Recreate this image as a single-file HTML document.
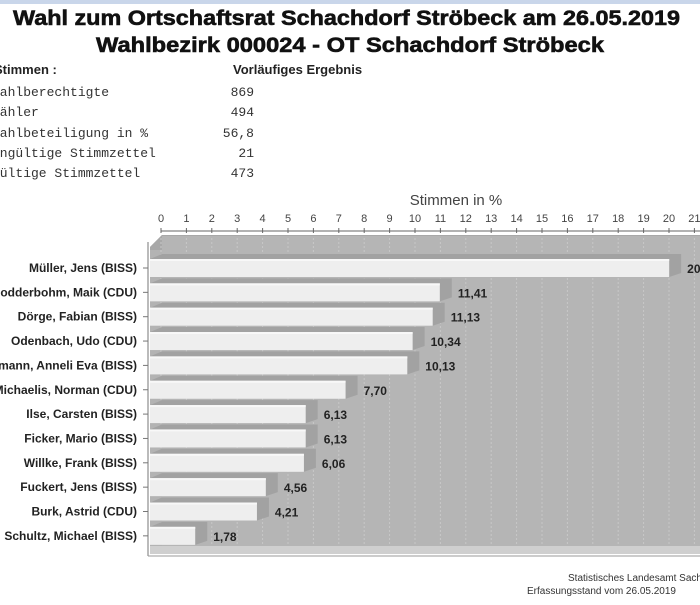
<!DOCTYPE html>
<html><head><meta charset="utf-8"><style>
body{margin:0;width:700px;height:600px;overflow:hidden;background:#fff;font-family:"Liberation Sans",sans-serif}
</style></head><body>
<svg width="700" height="600" xmlns="http://www.w3.org/2000/svg">
<rect x="0" y="0" width="700" height="4" fill="#c9d6ea"/>
<g font-family="Liberation Sans, sans-serif" font-weight="bold" font-size="21" fill="#111" stroke="#111" stroke-width="0.6">
<text x="13" y="25" textLength="667" lengthAdjust="spacingAndGlyphs">Wahl zum Ortschaftsrat Schachdorf Ströbeck am 26.05.2019</text>
<text x="96" y="52" textLength="508" lengthAdjust="spacingAndGlyphs">Wahlbezirk 000024 - OT Schachdorf Ströbeck</text>
</g>
<g font-family="Liberation Sans, sans-serif" font-weight="bold" font-size="13" fill="#222">
<text x="-6" y="74">Stimmen  :</text>
<text x="233" y="74">Vorläufiges Ergebnis</text>
</g>
<g font-family="Liberation Mono, monospace" font-size="13" fill="#333">
<text x="-8" y="96">Wahlberechtigte</text><text x="254" y="96" text-anchor="end">869</text>
<text x="-8" y="116">Wähler</text><text x="254" y="116" text-anchor="end">494</text>
<text x="-8" y="137">Wahlbeteiligung in %</text><text x="254" y="137" text-anchor="end">56,8</text>
<text x="-8" y="157">Ungültige Stimmzettel</text><text x="254" y="157" text-anchor="end">21</text>
<text x="-8" y="177">Gültige Stimmzettel</text><text x="254" y="177" text-anchor="end">473</text>
</g>
<text x="456" y="205" font-size="15" fill="#444" text-anchor="middle" font-family="Liberation Sans, sans-serif">Stimmen in %</text>
<g id="ticks" font-size="11" fill="#444" text-anchor="middle" font-family="Liberation Sans, sans-serif"></g>
<line x1="161" y1="231" x2="700" y2="231" stroke="#666"/>
<polygon points="162,235 700,235 700,553 150,553 150,247" fill="#b3b3b3"/>
<polygon points="162,235 700,235 700,250 162,250 150,250 150,247" fill="#a8a8a8"/>
<rect x="162" y="236" width="538" height="310" fill="#b5b5b5"/>
<rect x="150" y="546" width="550" height="8" fill="#cfcfcf"/>
<line x1="148" y1="242" x2="148" y2="556" stroke="#777"/>
<line x1="148" y1="556" x2="700" y2="556" stroke="#999"/>
<g id="grid" stroke="#c8c8c8" stroke-dasharray="2,2"></g>
<g id="bars"></g>
<g font-family="Liberation Sans, sans-serif" font-size="10" fill="#333">
<text x="568" y="581">Statistisches Landesamt Sachsen-Anhalt</text>
<text x="527" y="594">Erfassungsstand vom 26.05.2019</text>
</g>
</svg>
<script>
var ns="http://www.w3.org/2000/svg";
function el(t,a,p,txt){var e=document.createElementNS(ns,t);for(var k in a)e.setAttribute(k,a[k]);if(txt!=null)e.textContent=txt;p.appendChild(e);return e;}
var tk=document.getElementById('ticks'),gr=document.getElementById('grid'),bs=document.getElementById('bars');
var svg=document.querySelector('svg');
for(var i=0;i<=21;i++){var x=161+i*25.4;el('text',{x:x,y:222},tk,String(i));el('line',{x1:x,y1:228,x2:x,y2:233,stroke:'#666'},svg);el('line',{x1:x,y1:238,x2:x,y2:546},gr);}
var d=[["Müller, Jens (BISS)",20.44,"20,44"],["Sodderbohm, Maik (CDU)",11.41,"11,41"],["Dörge, Fabian (BISS)",11.13,"11,13"],["Odenbach, Udo (CDU)",10.34,"10,34"],["Hermann, Anneli Eva (BISS)",10.13,"10,13"],["Michaelis, Norman (CDU)",7.70,"7,70"],["Ilse, Carsten (BISS)",6.13,"6,13"],["Ficker, Mario (BISS)",6.13,"6,13"],["Willke, Frank (BISS)",6.06,"6,06"],["Fuckert, Jens (BISS)",4.56,"4,56"],["Burk, Astrid (CDU)",4.21,"4,21"],["Schultz, Michael (BISS)",1.78,"1,78"]];
d.forEach(function(r,i){var cy=268+i*24.35,w=r[1]*25.4;
el('polygon',{points:(150)+','+(cy-9)+' '+(162)+','+(cy-14)+' '+(162+w)+','+(cy-14)+' '+(162+w)+','+(cy+5)+' '+(150+w)+','+(cy+9)},bs).setAttribute('fill','#a2a2a2');
el('rect',{x:150,y:cy-9,width:w,height:18,fill:'#eeeeee'},bs);
el('rect',{x:150,y:cy-9,width:w,height:2,fill:'#f8f8f8'},bs);
el('text',{x:150+w+18,y:cy+5,'font-size':12,'font-weight':'bold',fill:'#222','font-family':'Liberation Sans, sans-serif'},bs,r[2]);
el('text',{x:137,y:cy+4,'font-size':12,'font-weight':'bold',fill:'#222','text-anchor':'end','font-family':'Liberation Sans, sans-serif'},bs,r[0]);
el('line',{x1:143,y1:cy,x2:148,y2:cy,stroke:'#777'},bs);});
</script>
</body></html>
